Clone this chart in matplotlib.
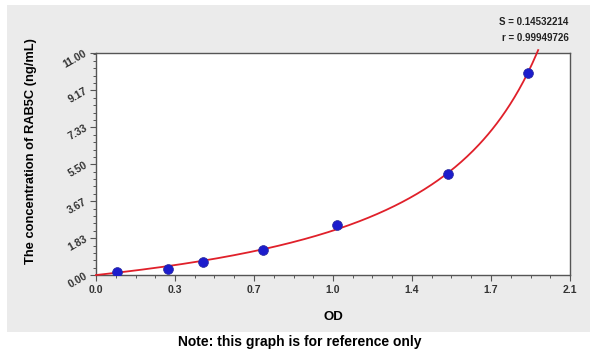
import numpy as np
import matplotlib.pyplot as plt
from matplotlib.patches import Rectangle
from matplotlib.ticker import FixedLocator, AutoMinorLocator

# standard curve data
od = np.array([0.093, 0.319, 0.474, 0.740, 1.067, 1.560, 1.914])
conc = np.array([0.156, 0.312, 0.625, 1.25, 2.5, 5.0, 10.0])

x_ticks = [0.0, 0.35, 0.7, 1.05, 1.4, 1.75, 2.1]
x_labels = ['0.0', '0.3', '0.7', '1.0', '1.4', '1.7', '2.1']
y_ticks = [0.0, 1.83, 3.67, 5.50, 7.33, 9.17, 11.00]
y_labels = ['0.00', '1.83', '3.67', '5.50', '7.33', '9.17', '11.00']

plt.rcParams['font.family'] = ['Liberation Sans', 'DejaVu Sans']

fig = plt.figure(figsize=(6, 3.54), dpi=100)
fig.patches.append(Rectangle((0.012, 0.062), 0.972, 0.924, transform=fig.transFigure,
                             facecolor='#ebebeb', edgecolor='none', zorder=-10))

ax = fig.add_axes([0.16, 0.223, 0.79, 0.627])
ax.set_zorder(1)
ax.set_facecolor('white')

# fit c = a*od/(m - od)  ->  c*m - a*od = c*od  (linear least squares)
A = np.column_stack([conc, -od])
(m, a), *_ = np.linalg.lstsq(A, conc * od, rcond=None)
x_end = 11.15 * m / (a + 11.15)
xs = np.linspace(0.0, x_end, 300)
ax.plot(xs, a * xs / (m - xs), color='#e0202a', lw=1.3, zorder=3, clip_on=False)
ax.scatter(od, conc, s=50, color='#1c1ccc', edgecolors='#2a2a9a', linewidths=0.5, zorder=4)

ax.set_xlim(0, 2.1)
ax.set_ylim(0, 11)
ax.xaxis.set_major_locator(FixedLocator(x_ticks))
ax.yaxis.set_major_locator(FixedLocator(y_ticks))
ax.set_xticklabels(x_labels)
ax.set_yticklabels(y_labels, rotation=30, ha='right', va='center', rotation_mode='anchor')
ax.xaxis.set_minor_locator(AutoMinorLocator(4))
ax.yaxis.set_minor_locator(AutoMinorLocator(5))
ax.tick_params(which='major', length=4, width=0.8, color='#555555', labelsize=7.5,
               labelcolor='#333333', direction='out')
ax.tick_params(which='minor', length=2, width=0.7, color='#555555', direction='out')
ax.tick_params(axis='y', pad=3)
for lab in ax.get_xticklabels() + ax.get_yticklabels():
    lab.set_fontweight('bold')
for sp in ax.spines.values():
    sp.set_color('#555555')
    sp.set_linewidth(1.0)

ax.set_xlabel('OD', fontsize=9.5, fontweight='bold')
ax.xaxis.set_label_coords(0.5, -0.16)
ax.set_ylabel('The concentration of RAB5C (ng/mL)', fontsize=9.3, fontweight='bold')
ax.yaxis.set_label_coords(-0.125, 0.56)

fig.text(0.948, 0.937, 'S = 0.14532214', ha='right', va='center', fontsize=7, fontweight='bold', color='#222222')
fig.text(0.948, 0.893, 'r = 0.99949726', ha='right', va='center', fontsize=7, fontweight='bold', color='#222222')
fig.text(0.5, 0.035, 'Note: this graph is for reference only', ha='center', va='center',
         fontsize=10, fontweight='bold', color='black')

fig.savefig('out.png', dpi=100)
